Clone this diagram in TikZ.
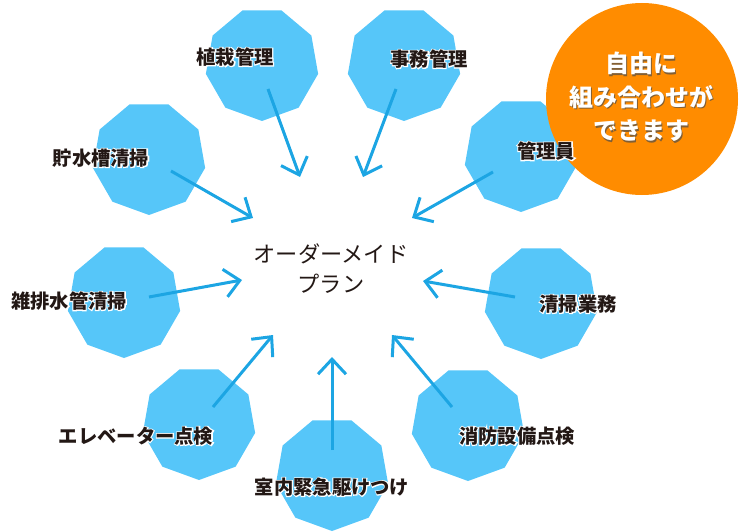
\documentclass[tikz,border=0pt]{standalone}
\usepackage{fontspec}
\newfontfamily\jp{Noto Sans CJK JP}
\newfontfamily\jphalo{Noto Sans CJK JP}[BoldFeatures={FakeBold=10}]
\usetikzlibrary{shapes.geometric,arrows.meta}
\definecolor{nblue}{HTML}{56C6F9}
\definecolor{ablue}{HTML}{1CA5E3}
\definecolor{ink}{HTML}{231815}
\definecolor{orng}{HTML}{FF8C00}
\tikzset{
  nona/.style={regular polygon, regular polygon sides=9, regular polygon rotate=180,
    minimum size=114pt, inner sep=0pt, outer sep=0pt, fill=nblue, draw=none},
  arr/.style={draw=ablue, line width=3pt, -{Straight Barb[length=15pt,width=28pt]}},
  lab/.style={font=\jp\bfseries\fontsize{19.3}{19.3}\selectfont, text=ink, inner sep=0pt},
  halo/.style={font=\jphalo\bfseries\fontsize{19.3}{19.3}\selectfont, text=white, inner sep=0pt},
  ctext/.style={font=\jp\fontsize{22.2}{30}\selectfont, text=ink, align=center, inner sep=0pt},
  otext/.style={font=\jp\bfseries\fontsize{24}{33.5}\selectfont, text=white, align=center, inner sep=0pt},
  oshadow/.style={font=\jp\bfseries\fontsize{24}{33.5}\selectfont, text=black!70, opacity=0.7, align=center, inner sep=0pt},
}
\newcommand\mylbl[3]{\node[halo] at (#1) {#3};\node[lab] (#2) at (#1) {#3};}
\begin{document}
\begin{tikzpicture}[x=1pt,y=-1pt]
\useasboundingbox (0,0) rectangle (739,532);
% shapes
\node[nona] (n1) at (262,64) {};
\node[nona] (n2) at (404,64) {};
\node[nona] (n3) at (521,155) {};
\node[nona] (n4) at (149,158) {};
\node[nona] (n5) at (124,301) {};
\node[nona] (n6) at (541,302) {};
\node[nona] (n7) at (199,423) {};
\node[nona] (n8) at (332,474) {};
\node[nona] (n9) at (468,424) {};
% orange circle
\node[circle, fill=orng, minimum size=192pt, inner sep=0pt] (oc) at (642,99) {};
\node[oshadow] at (642.5,98.5) {自由に\\組み合わせが\\できます};
\node[otext] (ot) at (641,97) {自由に\\組み合わせが\\できます};
% arrows
\coordinate (s1) at (268,89);  \coordinate (t1) at (300,177);
\coordinate (s2) at (396,89);  \coordinate (t2) at (363,177);
\coordinate (s3) at (171,171); \coordinate (t3) at (253,218);
\coordinate (s4) at (493,172); \coordinate (t4) at (412,218);
\coordinate (s5) at (149,297); \coordinate (t5) at (242,280);
\coordinate (s6) at (515,297); \coordinate (t6) at (423,281);
\coordinate (s7) at (213,407); \coordinate (t7) at (273,335);
\coordinate (s8) at (332,450); \coordinate (t8) at (332,357);
\coordinate (s9) at (452,407); \coordinate (t9) at (392,335);
\foreach \i in {1,...,9} {\draw[arr] (s\i) -- (t\i);}
% center text
\node[ctext] (c) at (331,269) {オーダーメイド\\プラン};
% labels
\mylbl{235,57}{l1}{植栽管理}
\mylbl{429,59}{l2}{事務管理}
\mylbl{546,151}{l3}{管理員}
\mylbl{101,158}{l4}{貯水槽清掃}
\mylbl{69,301}{l5}{雑排水管清掃}
\mylbl{578,304}{l6}{清掃業務}
\mylbl{136,436}{l7}{エレベーター点検}
\mylbl{517,436}{l8}{消防設備点検}
\mylbl{332,487}{l9}{室内緊急駆けつけ}
\end{tikzpicture}
\end{document}
